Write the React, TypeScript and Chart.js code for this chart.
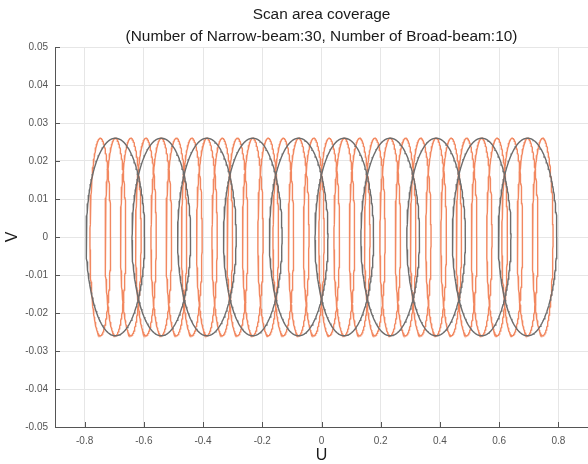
import React, { useEffect, useRef } from "react";
import { Chart, registerables } from "chart.js";

Chart.register(...registerables);

const TITLE_LINES = [
  "Scan area coverage",
  "(Number of Narrow-beam:30, Number of Broad-beam:10)",
];
const X_LABEL = "U";
const Y_LABEL = "V";
const X_TICKS = [-0.8, -0.6, -0.4, -0.2, 0, 0.2, 0.4, 0.6, 0.8];
const Y_TICKS = [-0.05, -0.04, -0.03, -0.02, -0.01, 0, 0.01, 0.02, 0.03, 0.04, 0.05];

// beam centres along U (all beams centred at V = 0)
const NARROW_CENTERS_U = [
  -0.747, -0.696, -0.644, -0.593, -0.541, -0.49, -0.438, -0.387, -0.335, -0.284,
  -0.232, -0.18, -0.129, -0.077, -0.026, 0.026, 0.077, 0.129, 0.18, 0.232,
  0.284, 0.335, 0.387, 0.438, 0.49, 0.541, 0.593, 0.644, 0.696, 0.747,
];
const BROAD_CENTERS_U = [
  -0.696, -0.541, -0.387, -0.232, -0.077, 0.077, 0.232, 0.387, 0.541, 0.696,
];
// beam contour half-widths
const NARROW_HALF_U = 0.035;
const BROAD_HALF_U = 0.099;
const BEAM_HALF_V = 0.026;

const NARROW_COLOR = "rgb(242,136,96)";
const BROAD_COLOR = "rgb(108,108,108)";
const FONT = "'Liberation Sans', Arial, Helvetica, sans-serif";

function contour(cu: number, a: number, b: number) {
  const pts: { x: number; y: number }[] = [];
  const n = 200;
  for (let i = 0; i <= n; i++) {
    const t = (i / n) * Math.PI * 2;
    pts.push({ x: cu + a * Math.cos(t), y: b * Math.sin(t) });
  }
  return pts;
}

function fmt(v: number) {
  return String(Number(v.toFixed(3)));
}

const overlayPlugin = {
  id: "overlay",
  afterDraw(chart: any) {
    const { ctx, chartArea, scales } = chart;
    ctx.save();
    ctx.strokeStyle = "#555";
    ctx.lineWidth = 1;
    ctx.beginPath();
    X_TICKS.forEach((v) => {
      const px = Math.round(scales.x.getPixelForValue(v)) + 0.5;
      ctx.moveTo(px, chartArea.bottom);
      ctx.lineTo(px, chartArea.bottom - 5);
    });
    Y_TICKS.forEach((v) => {
      const py = Math.round(scales.y.getPixelForValue(v)) + 0.5;
      ctx.moveTo(chartArea.left, py);
      ctx.lineTo(chartArea.left + 5, py);
    });
    ctx.stroke();
    ctx.fillStyle = "#1a1a1a";
    ctx.font = `15.4px ${FONT}`;
    ctx.textAlign = "center";
    ctx.textBaseline = "middle";
    const cx = (chartArea.left + chartArea.right) / 2;
    ctx.fillText(TITLE_LINES[0], cx, 15);
    ctx.fillText(TITLE_LINES[1], cx, 37);
    ctx.restore();
  },
};

export default function App() {
  const ref = useRef<HTMLCanvasElement>(null);
  useEffect(() => {
    if (!ref.current) return;
    const datasets: any[] = [];
    NARROW_CENTERS_U.forEach((c, i) => {
      datasets.push({
        label: `Narrow ${i + 1}`,
        data: contour(c, NARROW_HALF_U, BEAM_HALF_V),
        borderColor: NARROW_COLOR,
        borderWidth: 1.4,
        showLine: true,
        pointRadius: 0,
        tension: 0,
        order: 1,
      });
    });
    BROAD_CENTERS_U.forEach((c, i) => {
      datasets.push({
        label: `Broad ${i + 1}`,
        data: contour(c, BROAD_HALF_U, BEAM_HALF_V),
        borderColor: BROAD_COLOR,
        borderWidth: 1.4,
        showLine: true,
        pointRadius: 0,
        tension: 0,
        order: 0,
      });
    });
    const chart = new Chart(ref.current, {
      type: "scatter",
      data: { datasets },
      plugins: [overlayPlugin],
      options: {
        animation: false,
        responsive: false,
        devicePixelRatio: 1,
        layout: { padding: { top: 47, left: 0, right: 0, bottom: 0 } },
        plugins: { legend: { display: false }, tooltip: { enabled: false } },
        scales: {
          x: {
            type: "linear",
            min: -0.9,
            max: 0.9,
            afterBuildTicks: (s: any) => {
              s.ticks = X_TICKS.map((v) => ({ value: v }));
            },
            afterFit: (s: any) => {
              s.height = 37;
            },
            ticks: {
              callback: (v: any) => fmt(Number(v)),
              font: { family: FONT, size: 10 },
              color: "#555",
              padding: 8,
              maxRotation: 0,
              autoSkip: false,
            },
            grid: { color: "#e6e6e6", drawTicks: false },
            border: { color: "#555", width: 1 },
            title: {
              display: true,
              text: X_LABEL,
              font: { family: FONT, size: 16, lineHeight: 1 },
              color: "#1a1a1a",
              padding: { top: 0, bottom: 0 },
            },
          },
          y: {
            type: "linear",
            min: -0.05,
            max: 0.05,
            afterBuildTicks: (s: any) => {
              s.ticks = Y_TICKS.map((v) => ({ value: v }));
            },
            afterFit: (s: any) => {
              s.width = 55;
            },
            ticks: {
              callback: (v: any) => fmt(Number(v)),
              font: { family: FONT, size: 10 },
              color: "#555",
              padding: 7,
              autoSkip: false,
            },
            grid: { color: "#e6e6e6", drawTicks: false },
            border: { color: "#555", width: 1 },
            title: {
              display: true,
              text: Y_LABEL,
              font: { family: FONT, size: 16, lineHeight: 1 },
              color: "#1a1a1a",
              padding: { top: 5, bottom: 0 },
            },
          },
        },
      },
    });
    return () => chart.destroy();
  }, []);
  return (
    <div style={{ position: "fixed", left: 0, top: 0, width: 588, height: 464, background: "#fff" }}>
      <canvas ref={ref} width={588} height={464} style={{ width: 588, height: 464 }} />
    </div>
  );
}
